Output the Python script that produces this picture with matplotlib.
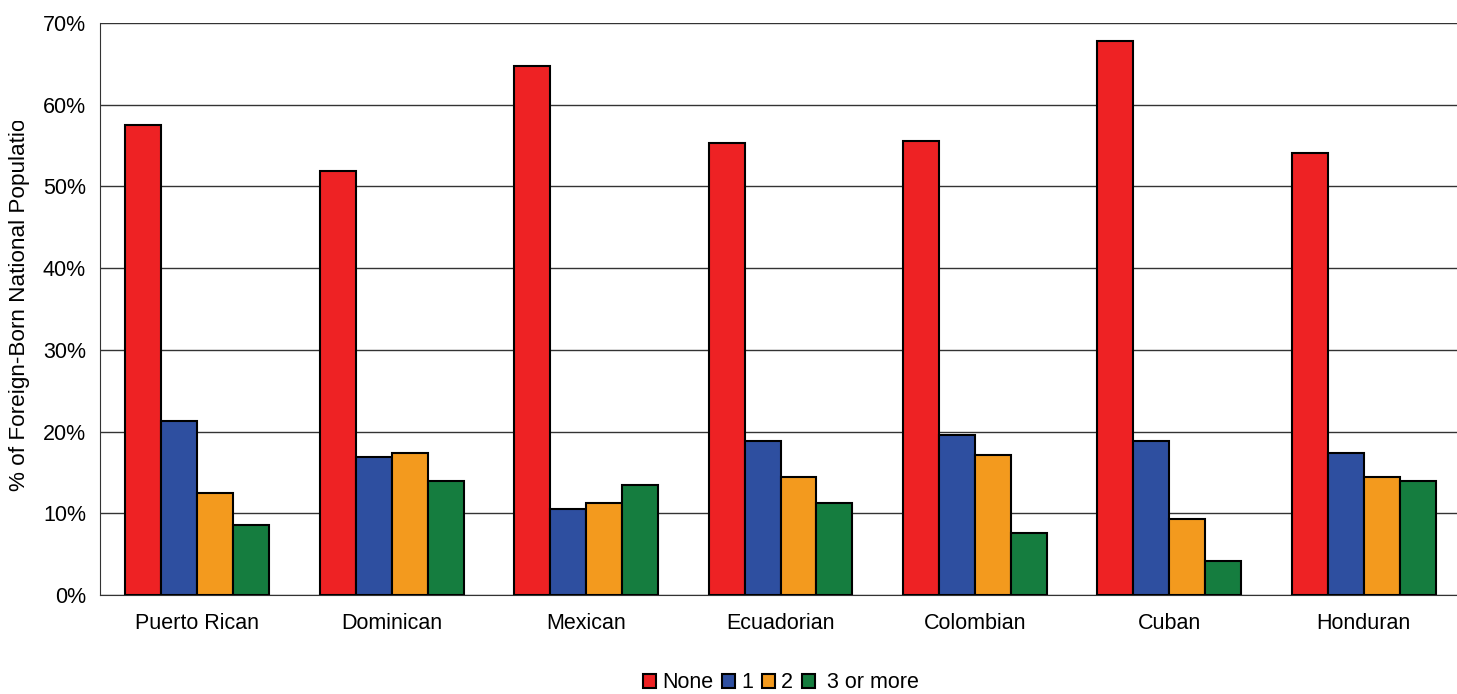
import matplotlib
matplotlib.use("Agg")
import matplotlib.pyplot as plt
import numpy as np
from matplotlib.transforms import Bbox

plt.rcParams['font.family'] = ['Liberation Sans', 'DejaVu Sans']

# data (%)
groups = ["Puerto Rican", "Dominican", "Mexican", "Ecuadorian", "Colombian", "Cuban", "Honduran"]
series = ["None", "1", "2", "3 or more"]
none_vals = [57.5, 51.9, 64.7, 55.3, 55.6, 67.8, 54.1]
one_vals = [21.3, 16.9, 10.5, 18.8, 19.6, 18.8, 17.4]
two_vals = [12.5, 17.4, 11.3, 14.4, 17.1, 9.3, 14.4]
three_vals = [8.6, 14.0, 13.5, 11.3, 7.6, 4.2, 14.0]
colors = ["#EE2224", "#2E4FA0", "#F39A1E", "#157D3F"]

fig = plt.figure(figsize=(14.57, 6.94), dpi=100)
ax = fig.add_axes([100 / 1457, 99 / 694, 1361 / 1457, 572 / 694])

x = np.arange(len(groups))
w = 0.185
all_vals = [none_vals, one_vals, two_vals, three_vals]
for i, vals in enumerate(all_vals):
    ax.bar(x + (i - 1.5) * w, vals, w, color=colors[i], edgecolor="black",
           linewidth=1.5, label=series[i], zorder=3)

fs = 15.5
ax.set_xlim(-0.5, len(groups) - 0.5)
ax.set_ylim(0, 70)
ax.set_yticks(range(0, 71, 10))
ax.set_yticklabels([f"{t}%" for t in range(0, 71, 10)], fontsize=fs)
ax.set_xticks(x)
ax.set_xticklabels(groups, fontsize=fs)
ax.tick_params(axis="y", length=0, pad=10)
ax.tick_params(axis="x", length=0, pad=13)
ax.grid(axis="y", color="#333333", linewidth=1, zorder=0)
for s in ["top", "right"]:
    ax.spines[s].set_visible(False)
ax.spines["left"].set_color("#333333")
ax.spines["bottom"].set_color("#333333")

# y label, clipped at the top like in the original
t = fig.text(20 / 1457, 1 - 491 / 694, "% of Foreign-Born National Population",
             rotation=90, ha="center", va="bottom", fontsize=16.2)
t.set_clip_box(Bbox([[0, 0], [60, 694 - 121]]))
t.set_clip_on(True)

handles, labels = ax.get_legend_handles_labels()
labels[-1] = " " + labels[-1]
ax.legend(handles, labels, loc="center", bbox_to_anchor=(781 / 1457, 1 - 683 / 694),
          bbox_transform=fig.transFigure, ncol=4, frameon=False, fontsize=fs,
          handlelength=0.6, handleheight=0.6, handletextpad=0.3, columnspacing=0.4)

fig.savefig("out.png", dpi=100)
